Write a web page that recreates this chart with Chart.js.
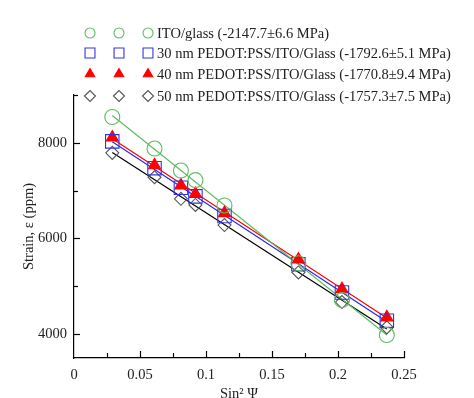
<!DOCTYPE html>
<html><head><meta charset="utf-8">
<script src="https://cdn.jsdelivr.net/npm/chart.js@4/dist/chart.umd.min.js"></script>
<style>html,body{margin:0;padding:0;background:#fff;} canvas{display:block;}</style>
</head><body>
<canvas id="c" width="474" height="398"></canvas>
<script>
// ---- data ----
const sin2psi   = [0.029, 0.061, 0.081, 0.092, 0.114, 0.170, 0.203, 0.237];
const strainITO = [8540, 7880, 7420, 7220, 6690, 5480, 4710, 3980];
const strain30  = [8030, 7470, 7060, 6880, 6470, 5460, 4870, 4280];
const strain40  = [8110, 7530, 7110, 6930, 6530, 5560, 4940, 4350];
const strain50  = [7790, 7280, 6830, 6700, 6280, 5290, 4670, 4140];
const seriesLabels = [
  'ITO/glass (-2147.7\u00b16.6 MPa)',
  '30 nm PEDOT:PSS/ITO/Glass (-1792.6\u00b15.1 MPa)',
  '40 nm PEDOT:PSS/ITO/Glass (-1770.8\u00b19.4 MPa)',
  '50 nm PEDOT:PSS/ITO/Glass (-1757.3\u00b17.5 MPa)'
];
const xTickValues = [0, 0.05, 0.1, 0.15, 0.2, 0.25];
const yTickValues = [4000, 6000, 8000];

// ---- styles ----
const styles = [
  {color:'#5fbb5f', line:'#5fbb5f', pointStyle:'circle',   r:7.5, lr:5,   fill:'rgba(0,0,0,0)'},
  {color:'#3434e0', line:'#2a2ae8', pointStyle:'rect',     r:9.5, lr:7,   fill:'rgba(0,0,0,0)'},
  {color:'#ff0000', line:'#ff0000', pointStyle:'triangle', r:7,   lr:5.5, fill:'#ff0000'},
  {color:'#555555', line:'#000000', pointStyle:'rectRot',  r:6.5, lr:5.5, fill:'rgba(0,0,0,0)'}
];
const series = [strainITO, strain30, strain40, strain50];

function fit(xs, ys){
  const n = xs.length;
  const mx = xs.reduce((a,b)=>a+b,0)/n, my = ys.reduce((a,b)=>a+b,0)/n;
  let sxy=0, sxx=0;
  for(let i=0;i<n;i++){ sxy+=(xs[i]-mx)*(ys[i]-my); sxx+=(xs[i]-mx)**2; }
  const b = sxy/sxx, a = my - b*mx;
  const x0 = Math.min(...xs), x1 = Math.max(...xs);
  return [{x:x0, y:a+b*x0}, {x:x1, y:a+b*x1}];
}

const datasets = [];
series.forEach((ys, i) => {
  datasets.push({
    label: 'fit'+i, data: fit(sin2psi, ys), showLine: true,
    borderColor: styles[i].line, borderWidth: 1.2, pointRadius: 0, order: 10
  });
});
series.forEach((ys, i) => {
  datasets.push({
    label: seriesLabels[i], data: sin2psi.map((x,j)=>({x, y: ys[j]})), showLine: false,
    pointStyle: styles[i].pointStyle, pointRadius: styles[i].r, pointHoverRadius: styles[i].r,
    borderColor: styles[i].color, backgroundColor: styles[i].fill, pointBorderWidth: 1.1, order: 1
  });
});

const FONT = 'Liberation Serif';
Chart.defaults.font.family = FONT;
Chart.defaults.color = '#222';

const decor = {
  id: 'decor',
  afterDraw(chart){
    const ctx = chart.ctx, xs = chart.scales.x, ys = chart.scales.y;
    ctx.save();
    ctx.strokeStyle = '#000'; ctx.lineWidth = 1.2;
    // y ticks (inward)
    for (let v = 4000; v <= 9000; v += 1000) {
      const p = Math.round(ys.getPixelForValue(v)) + 0.5;
      const len = (v % 2000 === 0) ? 6 : 4;
      ctx.beginPath(); ctx.moveTo(xs.left, p); ctx.lineTo(xs.left + len, p); ctx.stroke();
    }
    // x ticks (inward)
    for (let k = 1; k <= 10; k++) {
      const v = k * 0.025;
      const p = Math.round(xs.getPixelForValue(v)) + 0.5;
      const len = (k % 2 === 0) ? 7 : 5;
      ctx.beginPath(); ctx.moveTo(p, ys.bottom); ctx.lineTo(p, ys.bottom - len); ctx.stroke();
    }
    // legend
    const rowsY = [33, 53, 74, 96];
    const mx = [90, 119, 148];
    ctx.font = '14.5px "' + FONT + '"';
    ctx.textBaseline = 'middle';
    ctx.textAlign = 'left';
    styles.forEach((s, i) => {
      mx.forEach(x => {
        ctx.strokeStyle = s.color; ctx.fillStyle = s.fill; ctx.lineWidth = 1.1;
        Chart.helpers.drawPoint(ctx, {pointStyle: s.pointStyle, radius: s.lr, rotation: 0, borderWidth: 1.1}, x, rowsY[i]);
      });
      ctx.fillStyle = '#222';
      ctx.fillText(seriesLabels[i], 157, rowsY[i] + 1);
    });
    ctx.restore();
  }
};

new Chart(document.getElementById('c'), {
  type: 'scatter',
  data: { datasets },
  plugins: [decor],
  options: {
    responsive: false, devicePixelRatio: 1, animation: false,
    layout: { padding: { left: 0, top: 95, right: 70, bottom: 0 } },
    plugins: { legend: { display: false }, tooltip: { enabled: false } },
    scales: {
      x: {
        type: 'linear', min: 0, max: 0.25,
        afterFit(s){ s.height = 40; },
        afterBuildTicks(s){ s.ticks = xTickValues.map(v => ({value: v})); },
        grid: { display: false, drawTicks: false, tickLength: 0 },
        border: { display: true, color: '#000', width: 1.2 },
        ticks: { padding: 8, font: { size: 14.5 }, color: '#222', autoSkip: false, maxRotation: 0,
          callback: v => String(parseFloat(Number(v).toFixed(3))) },
        title: { display: true, text: 'Sin\u00b2 \u03a8', font: { size: 14.5 }, color: '#222', padding: { top: 0, bottom: -5 } }
      },
      y: {
        type: 'linear', min: 3500, max: 9000,
        afterFit(s){ s.width = 74; },
        afterBuildTicks(s){ s.ticks = yTickValues.map(v => ({value: v})); },
        grid: { display: false, drawTicks: false, tickLength: 0 },
        border: { display: true, color: '#000', width: 1.2 },
        ticks: { padding: 7, font: { size: 14.5 }, color: '#222', autoSkip: false,
          callback: v => String(v) },
        title: { display: true, text: 'Strain, \u03b5 (ppm)', font: { size: 14.5 }, color: '#222', padding: { top: 20, bottom: 0 } }
      }
    }
  }
});
</script>
</body></html>
